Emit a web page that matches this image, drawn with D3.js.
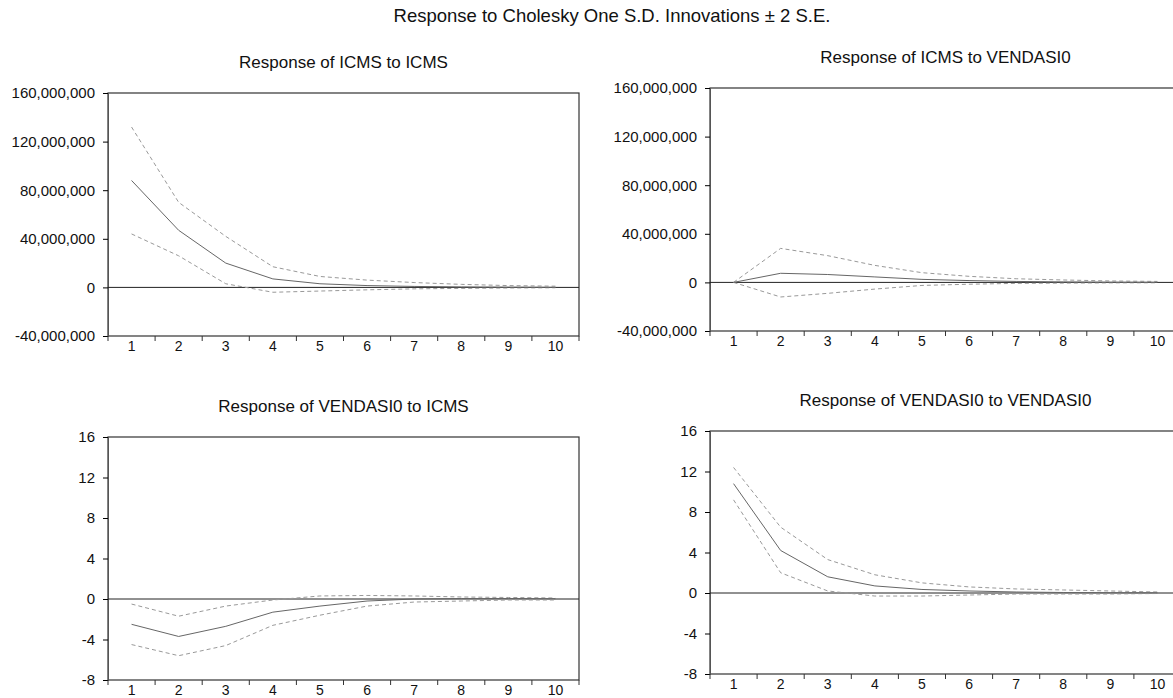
<!DOCTYPE html>
<html lang="en">
<meta charset="utf-8">
<head>
    <script src='https://d3js.org/d3.v7.min.js'></script>
    <style>
        body { margin: 0; background: #fff; }
        text { font-family: Arial, "Liberation Sans", sans-serif; fill: #111; }
    </style>
</head>
<body>
<div id="chart"></div>
</body>

<script>

// periods on the x axis
const periods = [1, 2, 3, 4, 5, 6, 7, 8, 9, 10];

// Response of ICMS to ICMS
const icmsIcms = [88e6, 47e6, 20e6, 7e6, 3e6, 1.5e6, 0.8e6, 0.4e6, 0.2e6, 0.1e6];
const icmsIcmsUp = [132e6, 70e6, 42e6, 17e6, 9e6, 6e6, 4e6, 2.5e6, 1.5e6, 1e6];
const icmsIcmsLo = [44e6, 26e6, 3e6, -4e6, -3e6, -2e6, -1.2e6, -0.8e6, -0.5e6, -0.3e6];

// Response of ICMS to VENDASI0
const icmsVend = [0, 7.5e6, 6.5e6, 4.5e6, 2.5e6, 1.5e6, 0.8e6, 0.4e6, 0.2e6, 0.1e6];
const icmsVendUp = [0, 28e6, 22e6, 14e6, 8e6, 5e6, 3e6, 2e6, 1.2e6, 0.8e6];
const icmsVendLo = [0, -12e6, -9e6, -5.5e6, -2.5e6, -1.5e6, -0.8e6, -0.6e6, -0.4e6, -0.3e6];

// Response of VENDASI0 to ICMS
const vendIcms = [-2.5, -3.7, -2.7, -1.3, -0.7, -0.2, 0, 0.05, 0.05, 0.03];
const vendIcmsUp = [-0.5, -1.7, -0.7, -0.1, 0.3, 0.35, 0.3, 0.2, 0.15, 0.1];
const vendIcmsLo = [-4.5, -5.6, -4.6, -2.6, -1.6, -0.7, -0.3, -0.2, -0.1, -0.1];

// Response of VENDASI0 to VENDASI0
const vendVend = [10.8, 4.2, 1.6, 0.7, 0.35, 0.2, 0.1, 0.05, 0.03, 0.02];
const vendVendUp = [12.4, 6.5, 3.3, 1.8, 1.0, 0.6, 0.4, 0.3, 0.2, 0.1];
const vendVendLo = [9.2, 2.0, 0.2, -0.3, -0.3, -0.2, -0.1, -0.1, -0.1, -0.05];

// y axis ticks
const bigTicks = [-40e6, 0, 40e6, 80e6, 120e6, 160e6];
const smallTicks = [-8, -4, 0, 4, 8, 12, 16];

const width = 1173, height = 698;
const plotW = 471, plotH = 243;

const svg = d3.select("#chart")
    .append("svg")
    .attr("width", width)
    .attr("height", height);

svg.append("text")
    .attr("x", 612)
    .attr("y", 22)
    .attr("text-anchor", "middle")
    .style("font-size", "18.5px")
    .text("Response to Cholesky One S.D. Innovations \u00b1 2 S.E.");

const panels = [
    {title: "Response of ICMS to ICMS", x: 108, y: 93, resp: icmsIcms, up: icmsIcmsUp, lo: icmsIcmsLo, ticks: bigTicks},
    {title: "Response of ICMS to VENDASI0", x: 710, y: 88, resp: icmsVend, up: icmsVendUp, lo: icmsVendLo, ticks: bigTicks},
    {title: "Response of VENDASI0 to ICMS", x: 108, y: 437, resp: vendIcms, up: vendIcmsUp, lo: vendIcmsLo, ticks: smallTicks},
    {title: "Response of VENDASI0 to VENDASI0", x: 710, y: 431, resp: vendVend, up: vendVendUp, lo: vendVendLo, ticks: smallTicks}
];

panels.forEach(function(p) {
    const g = svg.append("g").attr("transform", `translate(${p.x}, ${p.y})`);

    const x = d3.scaleBand().domain(periods).range([0, plotW]);
    const y = d3.scaleLinear()
        .domain([p.ticks[0], p.ticks[p.ticks.length - 1]])
        .range([plotH, 0]);
    const fmt = p.ticks === bigTicks ? d3.format(",") : d3.format("d");

    // title
    g.append("text")
        .attr("x", plotW / 2)
        .attr("y", -25)
        .attr("text-anchor", "middle")
        .style("font-size", "17px")
        .text(p.title);

    // frame
    g.append("rect")
        .attr("width", plotW)
        .attr("height", plotH)
        .attr("fill", "none")
        .attr("stroke", "#333")
        .attr("stroke-width", 1.2);

    // y axis
    const yAxis = g.append("g")
        .call(d3.axisLeft(y).tickValues(p.ticks)
            .tickFormat(d => fmt(d).replace("\u2212", "-"))
            .tickSize(5).tickPadding(8));
    yAxis.select(".domain").attr("stroke", "#555");
    yAxis.selectAll("text").style("font-size", "15px").attr("fill", "#111");

    // x axis: ticks on band edges, labels centred in bands
    const xAxis = g.append("g").attr("transform", `translate(0, ${plotH})`);
    xAxis.selectAll("line")
        .data(d3.range(periods.length + 1))
        .join("line")
        .attr("x1", d => d * x.bandwidth())
        .attr("x2", d => d * x.bandwidth())
        .attr("y1", 0)
        .attr("y2", 5)
        .attr("stroke", "#333");
    xAxis.selectAll("text")
        .data(periods)
        .join("text")
        .attr("x", d => x(d) + x.bandwidth() / 2)
        .attr("y", 15)
        .attr("text-anchor", "middle")
        .style("font-size", "14px")
        .text(d => d);

    // zero line
    g.append("line")
        .attr("x1", 0)
        .attr("x2", plotW)
        .attr("y1", y(0))
        .attr("y2", y(0))
        .attr("stroke", "#222")
        .attr("stroke-width", 1);

    const line = d3.line()
        .x((d, i) => x(periods[i]) + x.bandwidth() / 2)
        .y(d => y(d));

    // +/- 2 S.E. bands
    [p.up, p.lo].forEach(function(band) {
        g.append("path")
            .datum(band)
            .attr("d", line)
            .attr("fill", "none")
            .attr("stroke", "#999")
            .attr("stroke-width", 1)
            .attr("stroke-dasharray", "4,3");
    });

    // response
    g.append("path")
        .datum(p.resp)
        .attr("d", line)
        .attr("fill", "none")
        .attr("stroke", "#666")
        .attr("stroke-width", 1);
});
</script>
</html>
